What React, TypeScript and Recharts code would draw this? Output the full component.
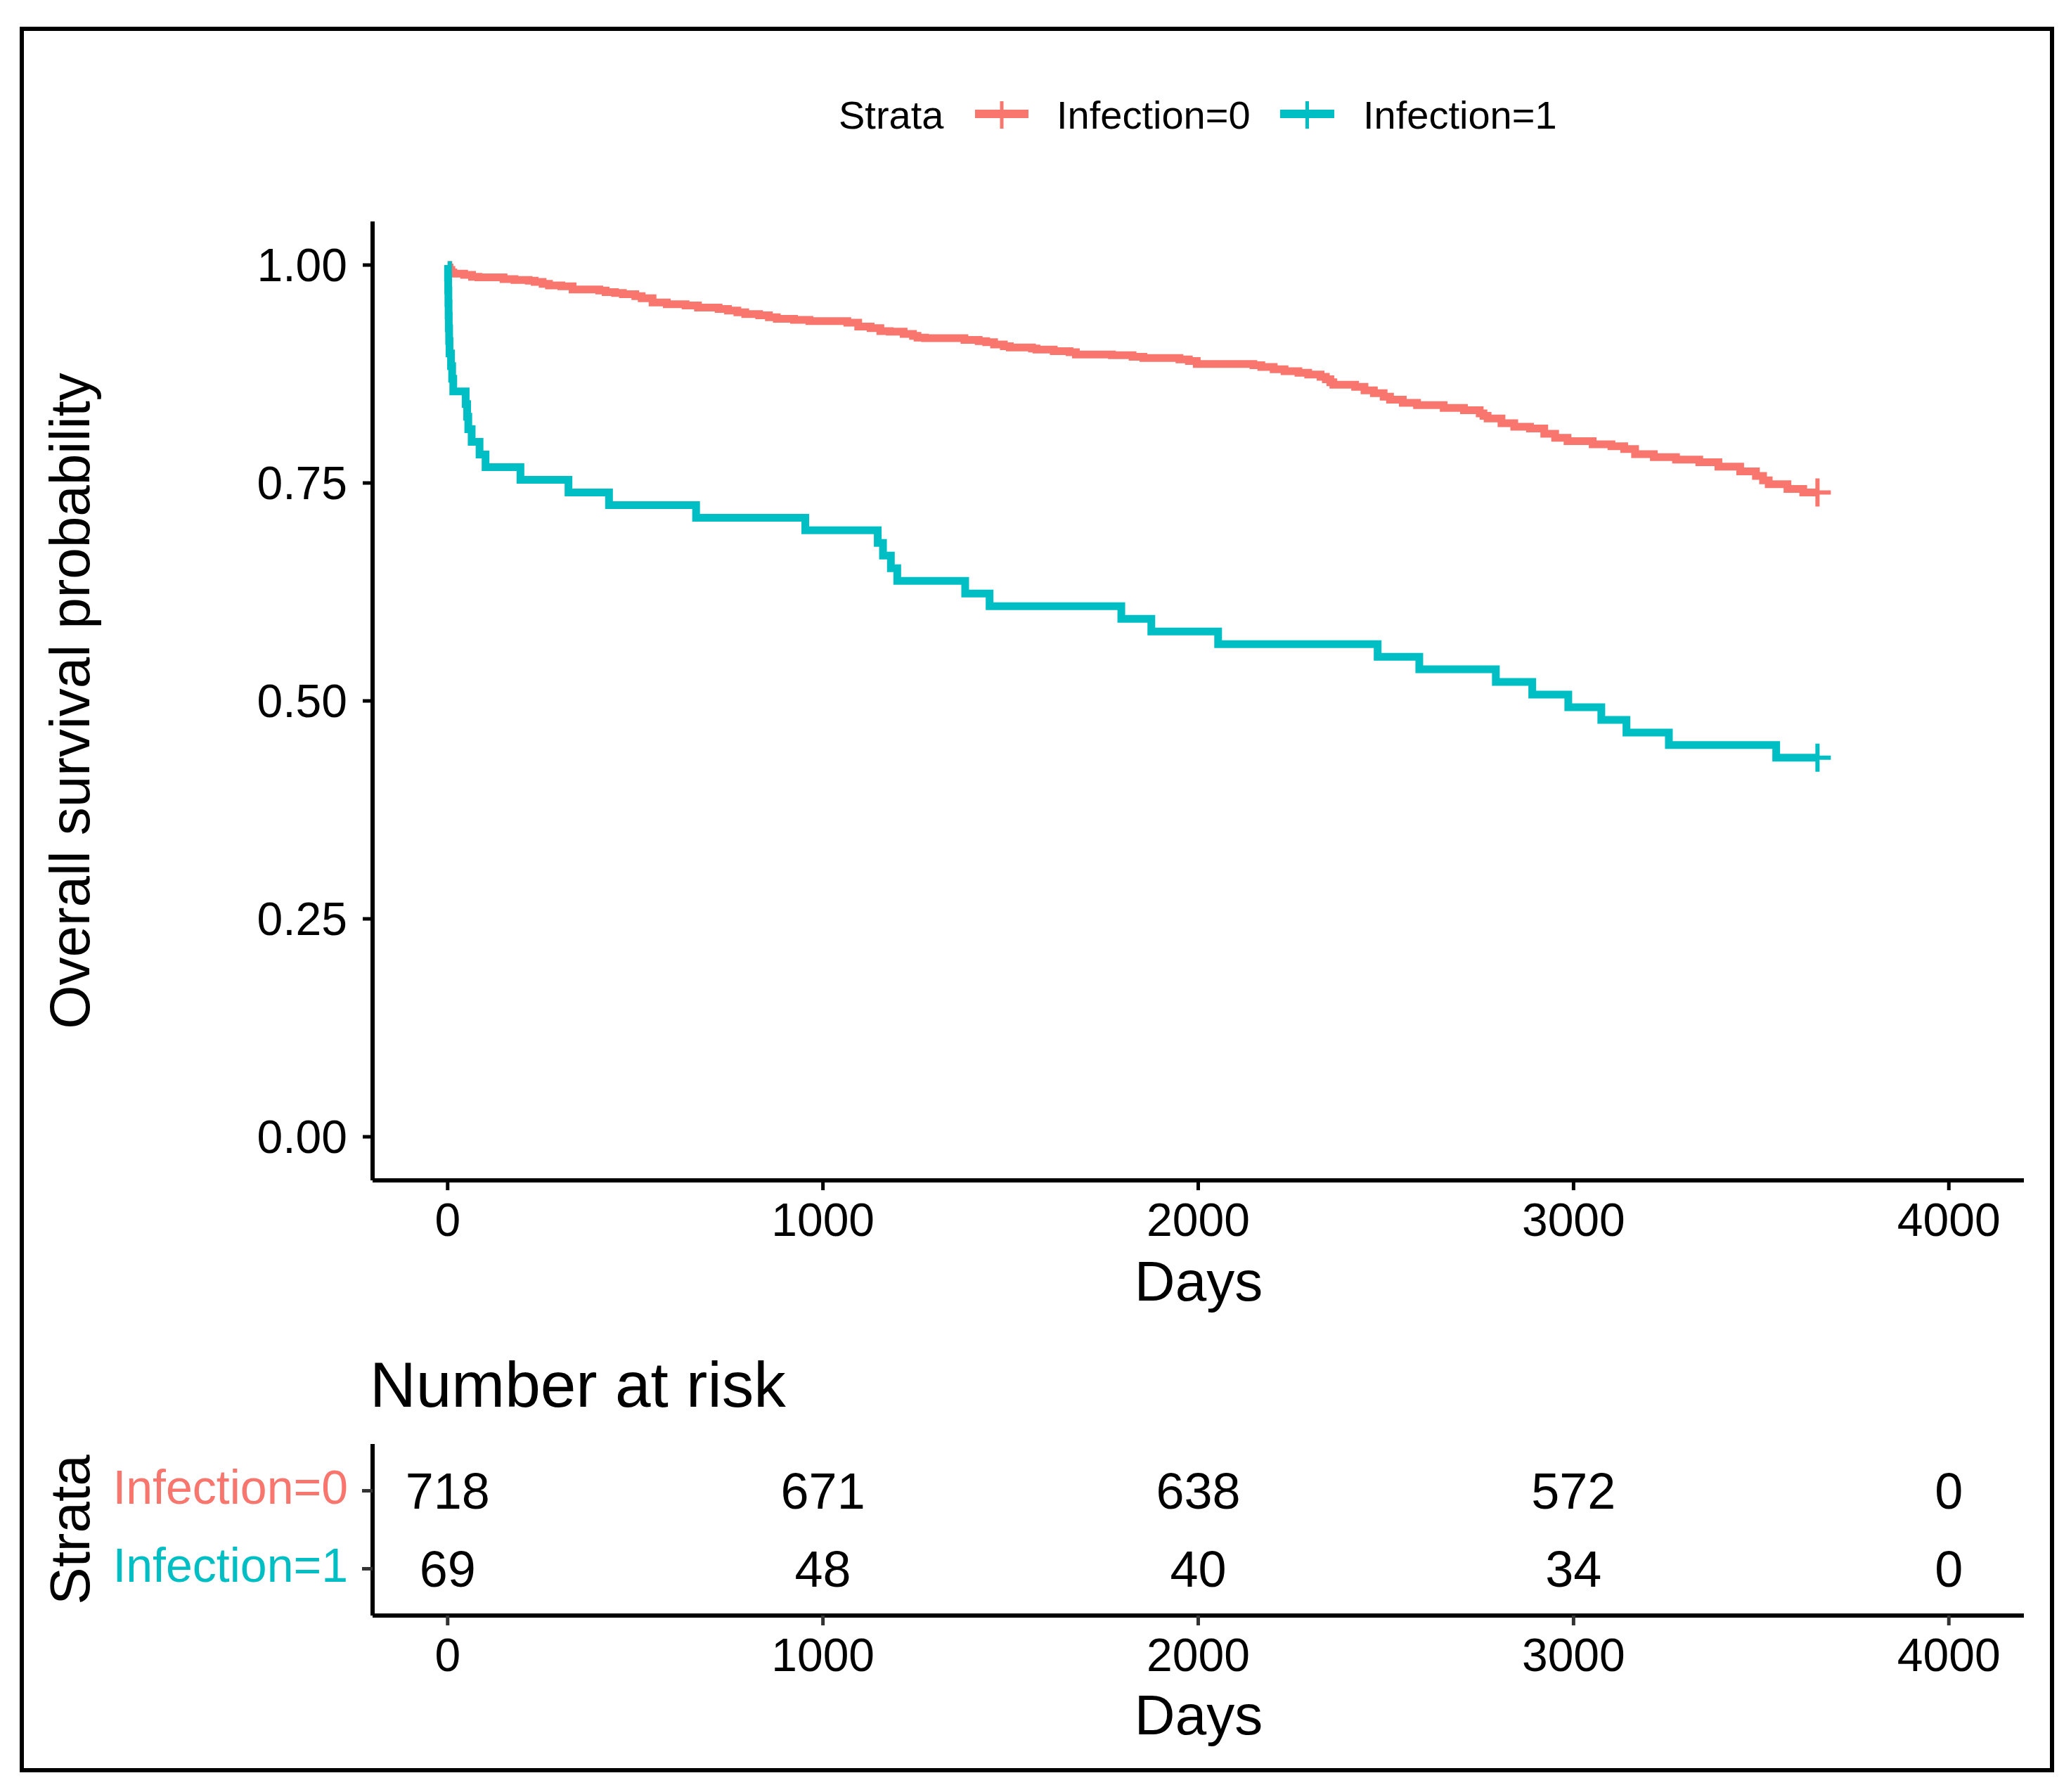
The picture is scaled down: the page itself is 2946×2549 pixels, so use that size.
import React from 'react';
import { ComposedChart, Line, Scatter, XAxis, YAxis, Legend } from 'recharts';

const FONT = '"Liberation Sans", Arial, Helvetica, sans-serif';
const RED = '#F8766D';
const TEAL = '#00BFC4';

const strataNames = ['Infection=0', 'Infection=1'];
const strataColors = [RED, TEAL];
const xTicks = [0, 1000, 2000, 3000, 4000];
const yTicks = [0, 0.25, 0.5, 0.75, 1];

// Kaplan-Meier estimate, Infection=0 (time in days, survival)
const infection0Days = [
  0, 2, 5, 10, 15, 44, 65, 82, 149, 178, 216, 232, 253, 270, 303, 333, 404, 421, 446, 467,
  500, 517, 546, 584, 634, 667, 722, 747, 772, 793, 830, 856, 877, 923, 964, 1065, 1094, 1127,
  1153, 1178, 1215, 1240, 1252, 1272, 1377, 1415, 1435, 1456, 1482, 1498, 1557, 1569, 1615,
  1657, 1674, 1770, 1825, 1854, 1950, 1975, 1996, 2147, 2168, 2201, 2230, 2267, 2293, 2326,
  2340, 2352, 2360, 2418, 2443, 2468, 2494, 2511, 2545, 2583, 2654, 2708, 2750, 2760, 2771,
  2808, 2842, 2884, 2922, 2951, 2984, 3051, 3101, 3135, 3164, 3214, 3273, 3335, 3386, 3444,
  3486, 3505, 3520, 3570, 3612, 3650,
];
const infection0Surv = [
  1.0, 0.9972, 0.9944, 0.9916, 0.9902, 0.9887, 0.9865, 0.9858, 0.9838, 0.9828, 0.982, 0.9806,
  0.9785, 0.9766, 0.9756, 0.972, 0.9707, 0.969, 0.968, 0.9666, 0.9644, 0.9618, 0.9571, 0.955,
  0.9537, 0.9513, 0.9496, 0.9477, 0.9458, 0.9438, 0.9424, 0.9402, 0.9384, 0.937, 0.9357,
  0.9338, 0.9295, 0.9276, 0.9241, 0.9236, 0.9209, 0.9188, 0.9168, 0.9161, 0.9142, 0.9128,
  0.9115, 0.9088, 0.9069, 0.9055, 0.9042, 0.9031, 0.9012, 0.9001, 0.8974, 0.8966, 0.8947,
  0.8934, 0.8918, 0.8899, 0.8864, 0.885, 0.8831, 0.8804, 0.8783, 0.8764, 0.8743, 0.8718,
  0.869, 0.8655, 0.8627, 0.8603, 0.8562, 0.853, 0.849, 0.8455, 0.842, 0.8393, 0.8361, 0.8334,
  0.8299, 0.827, 0.824, 0.8186, 0.8146, 0.8124, 0.8065, 0.8019, 0.7979, 0.7944, 0.7922,
  0.789, 0.7831, 0.7796, 0.7769, 0.7737, 0.7688, 0.7634, 0.758, 0.753, 0.7486, 0.7432,
  0.7392, 0.7392,
];

// Kaplan-Meier estimate, Infection=1
const infection1Days = [
  0, 1, 1.5, 2, 2.5, 3, 4, 5, 9, 12, 15, 48, 52, 55, 64, 85, 101, 194, 322, 430, 662, 953,
  1146, 1160, 1181, 1198, 1379, 1444, 1795, 1875, 2053, 2478, 2589, 2793, 2890, 2986, 3074,
  3141, 3254, 3540, 3650,
];
const infection1Surv = [
  1.0, 0.9855, 0.971, 0.9565, 0.942, 0.9275, 0.913, 0.8986, 0.8841, 0.8696, 0.8551, 0.8406,
  0.8261, 0.8116, 0.7971, 0.7826, 0.7681, 0.7536, 0.7391, 0.7246, 0.7101, 0.6957, 0.6812,
  0.6667, 0.6522, 0.6377, 0.6232, 0.6087, 0.5942, 0.5797, 0.5652, 0.5507, 0.5362, 0.5217,
  0.5072, 0.4928, 0.4783, 0.4638, 0.4493, 0.4348, 0.4348,
];

// censoring marks at the end of follow-up
const censorDays0 = [3650];
const censorSurv0 = [0.7392];
const censorDays1 = [3650];
const censorSurv1 = [0.4348];

// number at risk table
const riskDays = [0, 1000, 2000, 3000, 4000];
const riskInfection0 = [718, 671, 638, 572, 0];
const riskInfection1 = [69, 48, 40, 34, 0];

const curve0 = infection0Days.map((t, i) => ({ t, s: infection0Surv[i] }));
const curve1 = infection1Days.map((t, i) => ({ t, s: infection1Surv[i] }));
const censor0 = censorDays0.map((t, i) => ({ t, s: censorSurv0[i] }));
const censor1 = censorDays1.map((t, i) => ({ t, s: censorSurv1[i] }));
const riskRows0 = riskDays.map((t, i) => ({ t, row: 2, n: riskInfection0[i] }));
const riskRows1 = riskDays.map((t, i) => ({ t, row: 1, n: riskInfection1[i] }));

const plusShape = (color: string) => (props: any) => {
  const { cx, cy } = props;
  if (cx == null || cy == null) return null;
  return (
    <path
      d={`M${cx - 19},${cy}H${cx + 19}M${cx},${cy - 20}V${cy + 20}`}
      stroke={color}
      strokeWidth={6}
      fill="none"
    />
  );
};

const riskNumberShape = (props: any) => {
  const { cx, cy, payload } = props;
  if (cx == null || cy == null) return null;
  return (
    <text x={cx} y={cy} dy="0.36em" textAnchor="middle" fontSize={72} fontFamily={FONT} fill="#000">
      {payload.n}
    </text>
  );
};

const RiskYTick = (props: any) => {
  const { x, y, payload } = props;
  const idx = payload.value === 2 ? 0 : 1;
  return (
    <text x={x} y={y} dy="0.27em" textAnchor="end" fontSize={68} fontFamily={FONT} fill={strataColors[idx]}>
      {strataNames[idx]}
    </text>
  );
};

const renderLegend = (props: any) => {
  const items = (props.payload || []).filter((p: any) => p.type !== 'none');
  const keyX = [1387, 1821];
  const keyW = [76, 77];
  const labelX = [1503, 1939];
  const entries = strataNames.map((name, i) => {
    const p = items.find((it: any) => it.value === name);
    return { name, color: p ? p.color : strataColors[i] };
  });
  return (
    <svg width={2946} height={240} style={{ display: 'block' }}>
      <text x={1193} y={183} fontSize={56} fontFamily={FONT} fill="#000">Strata</text>
      {entries.map((e, i) => (
        <g key={e.name}>
          <line x1={keyX[i]} x2={keyX[i] + keyW[i]} y1={162} y2={162} stroke={e.color} strokeWidth={12} />
          <line x1={keyX[i] + keyW[i] / 2} x2={keyX[i] + keyW[i] / 2} y1={144} y2={183} stroke={e.color} strokeWidth={5} />
          <text x={labelX[i]} y={183} fontSize={56} fontFamily={FONT} fill="#000">{e.name}</text>
        </g>
      ))}
    </svg>
  );
};

const axisLine = { stroke: '#000', strokeWidth: 6 };
const tickLine = { stroke: '#000', strokeWidth: 5 };
const tickLineGrey = { stroke: '#333', strokeWidth: 5 };
const tickText = { fill: '#000', fontSize: 66, fontFamily: FONT };

export default function App() {
  return (
    <div
      style={{
        position: 'absolute',
        left: 0,
        top: 0,
        width: 2946,
        height: 2549,
        background: '#fff',
        overflow: 'hidden',
        fontFamily: FONT,
      }}
    >
      <div
        style={{
          position: 'absolute',
          left: 28,
          top: 38,
          width: 2894,
          height: 2483,
          border: '6px solid #000',
          boxSizing: 'border-box',
        }}
      />
      <div style={{ position: 'absolute', left: 0, top: 0 }}>
        <ComposedChart width={2946} height={1900} margin={{ top: 315, right: 67, bottom: 0, left: 0 }}>
          <XAxis
            type="number"
            dataKey="t"
            domain={[-200, 4200]}
            ticks={xTicks}
            interval={0}
            allowDataOverflow
            height={221}
            tickSize={14}
            tickMargin={18}
            axisLine={axisLine}
            tickLine={tickLine}
            tick={tickText}
          />
          <YAxis
            type="number"
            domain={[-0.05, 1.05]}
            ticks={yTicks}
            interval={0}
            allowDataOverflow
            width={530}
            tickSize={14}
            tickMargin={22}
            axisLine={axisLine}
            tickLine={tickLine}
            tick={tickText}
            tickFormatter={(v: number) => v.toFixed(2)}
          />
          <Legend
            layout="horizontal"
            verticalAlign="middle"
            align="center"
            content={renderLegend}
            wrapperStyle={{ position: 'absolute', top: 0, left: 0, width: 2946, height: 240 }}
          />
          <Line
            data={curve0}
            dataKey="s"
            name={strataNames[0]}
            type="stepAfter"
            stroke={RED}
            strokeWidth={11}
            dot={false}
            activeDot={false}
            isAnimationActive={false}
          />
          <Line
            data={curve1}
            dataKey="s"
            name={strataNames[1]}
            type="stepAfter"
            stroke={TEAL}
            strokeWidth={11}
            dot={false}
            activeDot={false}
            isAnimationActive={false}
          />
          <Scatter data={censor0} dataKey="s" shape={plusShape(RED)} legendType="none" isAnimationActive={false} />
          <Scatter data={censor1} dataKey="s" shape={plusShape(TEAL)} legendType="none" isAnimationActive={false} />
        </ComposedChart>
      </div>
      <div style={{ position: 'absolute', left: 0, top: 1900 }}>
        <ComposedChart width={2946} height={649} margin={{ top: 154, right: 67, bottom: 0, left: 0 }}>
          <XAxis
            type="number"
            dataKey="t"
            domain={[-200, 4200]}
            ticks={xTicks}
            interval={0}
            allowDataOverflow
            height={251}
            tickSize={14}
            tickMargin={18}
            axisLine={axisLine}
            tickLine={tickLineGrey}
            tick={tickText}
          />
          <YAxis
            type="number"
            dataKey="row"
            domain={[0.4, 2.6]}
            ticks={[1, 2]}
            interval={0}
            allowDataOverflow
            width={530}
            tickSize={15}
            tickMargin={20}
            axisLine={axisLine}
            tickLine={tickLineGrey}
            tick={<RiskYTick />}
          />
          <Scatter data={riskRows0} dataKey="row" shape={riskNumberShape} isAnimationActive={false} />
          <Scatter data={riskRows1} dataKey="row" shape={riskNumberShape} isAnimationActive={false} />
        </ComposedChart>
      </div>
      <svg
        width={2946}
        height={2549}
        style={{ position: 'absolute', left: 0, top: 0, pointerEvents: 'none' }}
      >
        <text x={1705} y={1850} textAnchor="middle" fontSize={80} fontFamily={FONT} fill="#000">Days</text>
        <text
          x={127}
          y={997}
          transform="rotate(-90 127 997)"
          textAnchor="middle"
          fontSize={80}
          fontFamily={FONT}
          fill="#000"
        >
          Overall survival probability
        </text>
        <text x={526} y={2001} fontSize={91} fontFamily={FONT} fill="#000">Number at risk</text>
        <text x={1705} y={2467} textAnchor="middle" fontSize={80} fontFamily={FONT} fill="#000">Days</text>
        <text
          x={127}
          y={2176}
          transform="rotate(-90 127 2176)"
          textAnchor="middle"
          fontSize={80}
          fontFamily={FONT}
          fill="#000"
        >
          Strata
        </text>
      </svg>
    </div>
  );
}
